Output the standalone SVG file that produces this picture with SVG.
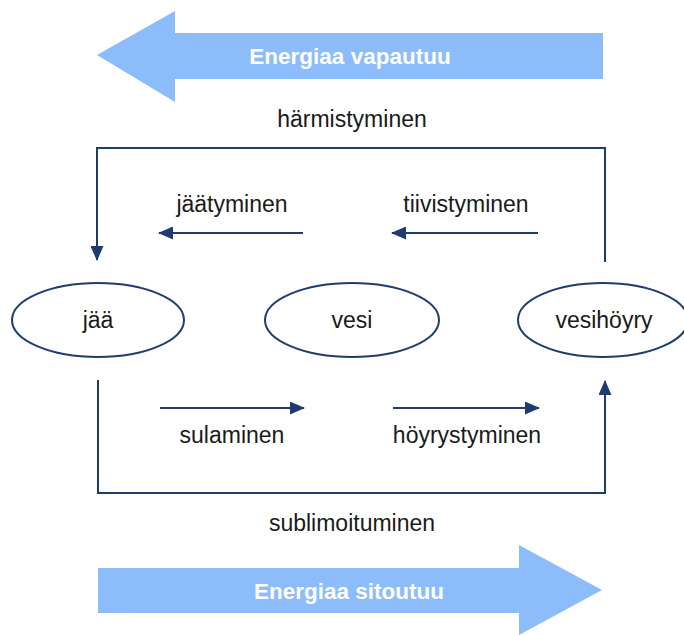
<svg xmlns="http://www.w3.org/2000/svg" width="684" height="635" viewBox="0 0 684 635">
<style>
.big{fill:#8DBCFA;stroke:none}
.bt{font-family:"Liberation Sans",Arial,sans-serif;font-size:22.5px;font-weight:bold;fill:#ffffff;text-anchor:middle}
.t{font-family:"Liberation Sans",Arial,sans-serif;font-size:23px;fill:#1a1a1a;text-anchor:middle}
.n{fill:#ffffff;stroke:#1F3C6E;stroke-width:2}
.c{fill:none;stroke:#1F3C6E;stroke-width:2}
</style>
<defs>
<marker id="ah" markerUnits="userSpaceOnUse" markerWidth="15" markerHeight="13" refX="14" refY="6.5" orient="auto">
<path d="M0,0 L15,6.5 L0,13 Z" fill="#1F3C6E"/>
</marker>
</defs>
<rect width="684" height="635" fill="#ffffff"/>
<g id="energy-released">
<polygon class="big" points="97,55 175,11 175,33 603,33 603,79 175,79 175,102"/>
<text class="bt" x="350" y="64">Energiaa vapautuu</text>
</g>
<g id="energy-bound">
<polygon class="big" points="98,568 519,568 519,545 602,590 519,635 519,613 98,613"/>
<text class="bt" x="349" y="599">Energiaa sitoutuu</text>
</g>
<g id="connectors">
<path class="c" d="M605,262 V148 H97 V260" marker-end="url(#ah)"/>
<path class="c" d="M98,380 V493 H605 V381" marker-end="url(#ah)"/>
<path class="c" d="M303,233 H159" marker-end="url(#ah)"/>
<path class="c" d="M538,233 H392" marker-end="url(#ah)"/>
<path class="c" d="M160,408 H304" marker-end="url(#ah)"/>
<path class="c" d="M393,408 H539" marker-end="url(#ah)"/>
<text class="t" x="352" y="127">härmistyminen</text>
<text class="t" x="232" y="212">jäätyminen</text>
<text class="t" x="466" y="212">tiivistyminen</text>
<text class="t" x="232" y="443">sulaminen</text>
<text class="t" x="467" y="443">höyrystyminen</text>
<text class="t" x="352" y="531">sublimoituminen</text>
</g>
<g id="jaa">
<ellipse class="n" cx="98" cy="320" rx="86" ry="37"/>
<text class="t" x="98" y="328">jää</text>
</g>
<g id="vesi">
<ellipse class="n" cx="352" cy="320" rx="87" ry="37"/>
<text class="t" x="352" y="328">vesi</text>
</g>
<g id="vesihoyry">
<ellipse class="n" cx="603" cy="320" rx="85" ry="37"/>
<text class="t" x="604" y="328">vesihöyry</text>
</g>
</svg>
